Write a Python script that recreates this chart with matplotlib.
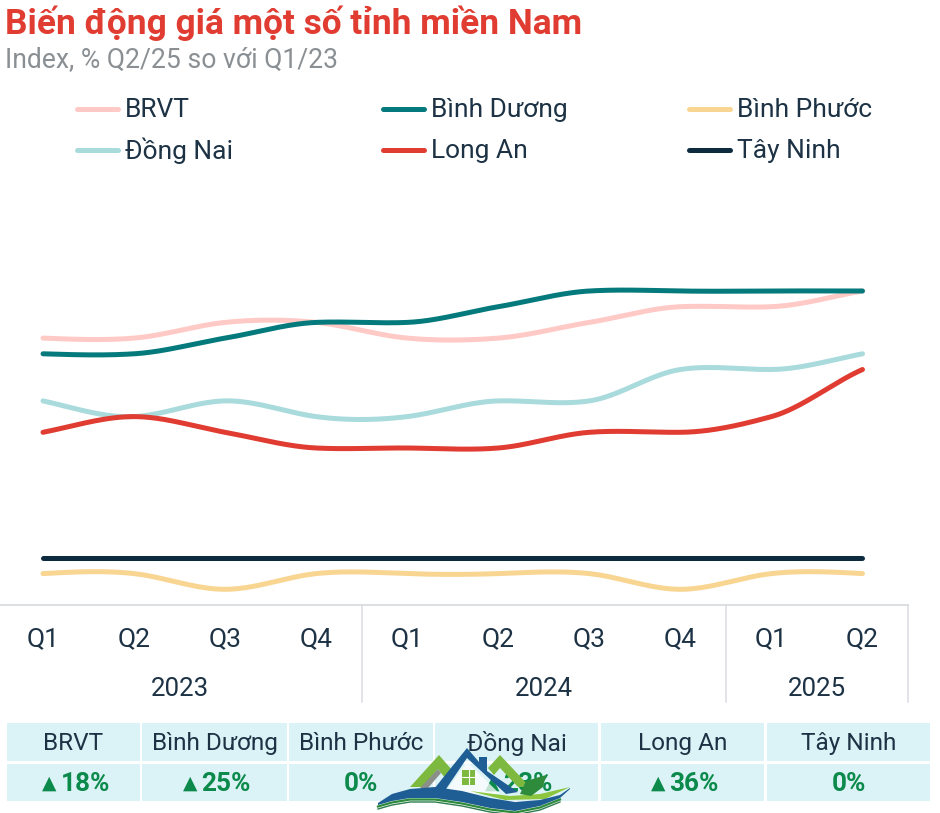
import numpy as np
import matplotlib
matplotlib.use("Agg")
import matplotlib.pyplot as plt
from matplotlib.patches import Rectangle, Polygon

plt.rcParams['font.family'] = ['Roboto', 'DejaVu Sans']

quarters = ['Q1', 'Q2', 'Q3', 'Q4', 'Q1', 'Q2', 'Q3', 'Q4', 'Q1', 'Q2']
years = ['2023', '2024', '2025']
year_spans = [(0, 3), (4, 7), (8, 9)]

brvt = [17, 17, 18, 18, 17, 17, 18, 19, 19, 20]
binh_duong = [16, 16, 17, 18, 18, 19, 20, 20, 20, 20]
binh_phuoc = [2, 2, 1, 2, 2, 2, 2, 1, 2, 2]
dong_nai = [13, 12, 13, 12, 12, 13, 13, 15, 15, 16]
long_an = [11, 12, 11, 10, 10, 10, 11, 11, 12, 15]
tay_ninh = [3, 3, 3, 3, 3, 3, 3, 3, 3, 3]

names = ['BRVT', 'Bình Dương', 'Bình Phước', 'Đồng Nai', 'Long An', 'Tây Ninh']
changes = ['18%', '25%', '0%', '23%', '36%', '0%']
rising = [True, True, False, True, True, False]
series = [brvt, binh_duong, binh_phuoc, dong_nai, long_an, tay_ninh]
colors = ['#FFC9C5', '#057A7C', '#F9D592', '#A9DADC', '#E03C31', '#0E2A3F']

INK = '#1D3345'
GREEN = '#0B8A4B'
W, H = 940, 813


def smooth(y, n=40):
    """Cubic spline through the values with slightly damped tangents."""
    y = np.asarray(y, float)
    N = len(y)
    A = np.zeros((N, N))
    b = np.zeros(N)
    A[0, 0], A[0, 1], b[0] = 2, 1, 3*(y[1]-y[0])
    A[-1, -1], A[-1, -2], b[-1] = 2, 1, 3*(y[-1]-y[-2])
    for i in range(1, N-1):
        A[i, i-1], A[i, i], A[i, i+1] = 1, 4, 1
        b[i] = 3*(y[i+1]-y[i-1])
    m = np.linalg.solve(A, b) * 0.75
    xs, ys = [], []
    for i in range(N - 1):
        t = np.linspace(0, 1, n)
        h00 = 2*t**3 - 3*t**2 + 1
        h10 = t**3 - 2*t**2 + t
        h01 = -2*t**3 + 3*t**2
        h11 = t**3 - t**2
        xs.append(i + t)
        ys.append(h00*y[i] + h10*m[i] + h01*y[i+1] + h11*m[i+1])
    return np.concatenate(xs), np.concatenate(ys)


fig = plt.figure(figsize=(W/100, H/100), dpi=100, facecolor='white')

# main plot: x 0..908 px, baseline at y=605 px
top_px, base_px = 250, 605
ax = fig.add_axes([0, 1 - base_px/H, 908/W, (base_px - top_px)/H])
ax.set_xlim(-43/91, 9.5)
ax.set_ylim(0, (base_px - top_px)/15.7)
for name, vals, c in zip(names, series, colors):
    xs, ys = smooth(vals)
    ax.plot(xs, ys, color=c, lw=3.6, solid_capstyle='round', label=name)
ax.patch.set_visible(False)
for s in ['top', 'left', 'right']:
    ax.spines[s].set_visible(False)
ax.spines['bottom'].set_color('#DADDE0')
ax.spines['bottom'].set_linewidth(1.3)
ax.set_yticks([])
ax.set_xticks(range(10))
ax.set_xticklabels(quarters, fontsize=19, color=INK)
ax.tick_params(axis='x', length=0, pad=16)

# pixel overlay
ov = fig.add_axes([0, 0, 1, 1], zorder=5)
ov.set_xlim(0, W)
ov.set_ylim(H, 0)
ov.axis('off')

ov.text(5, 23, 'Biến động giá một số tỉnh miền Nam', fontsize=25.4, fontweight='bold',
        color='#E03C31', va='center', ha='left')
ov.text(5, 60, 'Index, % Q2/25 so với Q1/23', fontsize=19.1, color='#8A8F93', va='center', ha='left')

# legend
leg_x = [77, 383, 689]
leg_y = [109, 150]
for i, (name, c) in enumerate(zip(names, colors)):
    lx = leg_x[i % 3]
    ly = leg_y[i // 3]
    ov.plot([lx, lx + 41], [ly, ly], color=c, lw=3.6, solid_capstyle='round')
    ov.text(lx + 48, ly + 1, name, fontsize=19, color=INK, va='center', ha='left')

# year band
for sep in [362, 726, 908]:
    ov.plot([sep, sep], [605, 702], color='#DADDE0', lw=1.1)
for label, (a, b) in zip(years, year_spans):
    cx = 43 + 91 * (a + b) / 2
    ov.text(cx + 0.5, 689, label, fontsize=18.6, color=INK, ha='center', va='center')

# summary table
cells_x = [(7, 140), (142, 287), (289, 433), (435, 598), (601, 764), (767, 930)]
for (x0, x1), name, chg, up in zip(cells_x, names, changes, rising):
    cx = (x0 + x1)/2
    ov.add_patch(Rectangle((x0, 723), x1 - x0, 38, fc='#DBF3F6', ec='none'))
    ov.add_patch(Rectangle((x0, 764), x1 - x0, 37, fc='#DBF3F6', ec='none'))
    ov.text(cx, 743.5, name, fontsize=17.6, color=INK, ha='center', va='center')
    if up:
        ov.text(cx - 24, 784, '▲', fontsize=13.5, color=GREEN, ha='center', va='center')
        ov.text(cx - 13, 784, chg, fontsize=18.8, fontweight='bold', color=GREEN,
                ha='left', va='center')
    else:
        ov.text(cx, 784, chg, fontsize=18.8, fontweight='bold', color=GREEN,
                ha='center', va='center')

# logo watermark
ov.add_patch(Polygon([(410, 787), (439, 755), (452, 770), (445, 778), (438, 769), (423, 787)],
                     fc='#7CB93E', ec='none', zorder=6))
ov.add_patch(Polygon([(488, 768), (500, 755), (530, 787), (518, 787), (500, 768), (494, 775)],
                     fc='#7CB93E', ec='none', zorder=6))
ov.add_patch(Polygon([(420, 788), (438, 769), (441, 773), (428, 788)], fc='#8A8F8A', ec='none', zorder=6))
ov.add_patch(Polygon([(447, 790), (467, 762), (500, 794), (447, 794)],
                     fc='white', alpha=0.75, ec='none', zorder=6))
ov.add_patch(Polygon([(434, 789), (467, 748), (479, 762), (479, 757), (487, 757), (487, 771),
                      (518, 792), (506, 794), (467, 758), (446, 789)],
                     fc='#1F5E94', ec='none', zorder=7))
ov.add_patch(Rectangle((462, 770), 13, 15, fc='#7CB93E', ec='none', zorder=7))
ov.plot([468.5, 468.5], [770, 785], color='white', lw=0.8, zorder=7)
ov.plot([462, 475], [777, 777], color='white', lw=0.8, zorder=7)
ov.add_patch(Polygon([(520, 794), (526, 781), (546, 775), (543, 787), (531, 796)],
                     fc='#2E8B3C', ec='none', zorder=8))
ov.add_patch(Polygon([(470, 791), (510, 796), (540, 794), (570, 787), (545, 799), (505, 800)],
                     fc='#8CC63F', ec='none', zorder=7))
wave_x = np.array([378, 392, 410, 435, 462, 490, 515, 540, 560, 570])
wave_a = np.array([803, 794, 789, 787, 791, 798, 802, 800, 795, 788])
wave_b = np.array([805, 801, 798, 798, 802, 808, 811, 806, 798, 789])
ov.add_patch(Polygon(np.r_[np.c_[wave_x, wave_a], np.c_[wave_x, wave_b][::-1]],
                     fc='#1F5E94', ec='none', zorder=8))
ov.plot(wave_x[:-1], wave_b[:-1] + 1.5, color='#2E8B3C', lw=1.6, zorder=8)
ov.plot(wave_x[:-1], wave_b[:-1] + 4, color='#2E7D4F', lw=1.0, zorder=8)

fig.savefig('out.png', dpi=100, facecolor='white')
